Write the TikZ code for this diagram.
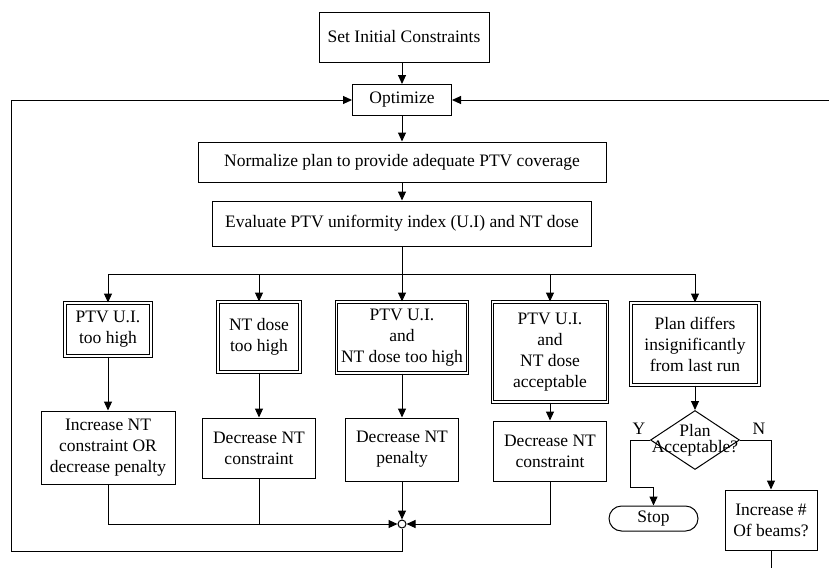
\documentclass[tikz,border=0pt]{standalone}
\usepackage{fontspec}
\setmainfont{Liberation Serif}
\usepackage{tikz}
\usetikzlibrary{arrows.meta,shapes.geometric}

\begin{document}
\begin{tikzpicture}[x=1pt, y=-1pt,
	every node/.style={font=\fontsize{17.5}{21}\selectfont, align=center},
	box/.style={draw, line width=1pt, inner sep=2pt},
	cond/.style={box, double, double distance=1.6pt},
	arr/.style={-{Triangle[length=9pt, width=8pt]}},
	line width=1pt]
	\useasboundingbox (0,0) rectangle (829,568);

	% main column
	\node[box, minimum width=170, minimum height=50] (init) at (404,37) {Set Initial Constraints};
	\node[box, minimum width=99, minimum height=31] (opt) at (402,100) {Optimize};
	\node[box, minimum width=408, minimum height=40] (norm) at (402,162) {Normalize plan to provide adequate PTV coverage};
	\node[box, minimum width=379, minimum height=45] (eval) at (402,223.5) {Evaluate PTV uniformity index (U.I) and NT dose};
	\draw[arr] (init.south -| opt) -- (opt);
	\draw[arr] (opt) -- (norm);
	\draw[arr] (norm) -- (eval);

	% outcomes of the evaluation
	\node[cond, minimum width=86, minimum height=53] (c1) at (108,329.5) {PTV U.I.\\too high};
	\node[cond, minimum width=82, minimum height=70] (c2) at (259,337) {NT dose\\too high};
	\node[cond, minimum width=131, minimum height=71] (c3) at (402,337.5) {PTV U.I.\\and\\NT dose too high};
	\node[cond, minimum width=115, minimum height=100] (c4) at (550,352) {PTV U.I.\\and\\NT dose\\acceptable};
	\node[cond, minimum width=128, minimum height=82] (c5) at (695,344) {Plan differs\\insignificantly\\from last run};

	\coordinate (split) at (402,274);
	\draw (eval) -- (split);
	\draw (c1.north |- split) -- (c5.north |- split);
	\foreach \c in {c1,c2,c3,c4,c5}
		\draw[arr] (\c.north |- split) -- (\c.north);

	% constraint changes
	\node[box, minimum width=134, minimum height=73] (a1) at (108,447.5) {Increase NT\\constraint OR\\decrease penalty};
	\node[box, minimum width=113, minimum height=60] (a2) at (259,448) {Decrease NT\\constraint};
	\node[box, minimum width=113, minimum height=63] (a3) at (402,449.5) {Decrease NT\\penalty};
	\node[box, minimum width=113, minimum height=60] (a4) at (550,451) {Decrease NT\\constraint};
	\draw[arr] (c1) -- (a1);
	\draw[arr] (c2) -- (a2);
	\draw[arr] (c3) -- (a3);
	\draw[arr] (c4) -- (a4);

	% merge and loop back
	\node[draw, circle, fill=white, inner sep=0pt, minimum size=8] (junc) at (402,524) {};
	\draw[arr] (a1.south) |- (junc.west);
	\draw (a2.south) -- (a2.south |- junc);
	\draw[arr] (a3) -- (junc);
	\draw[arr] (a4.south) |- (junc.east);
	\coordinate (loopl) at (11,551);
	\draw[arr] (junc.south) |- (loopl) |- (opt.west);
	\coordinate (loopr) at (829,100);
	\draw[arr] (loopr) -- (opt.east);

	% acceptance test
	\node[draw, diamond, inner sep=0pt, minimum width=89, minimum height=59,
		label={[font=\fontsize{17.5}{16}\selectfont, align=center]center:Plan\\Acceptable?}] (dec) at (695,440) {};
	\draw[arr] (c5) -- (dec);
	\node[draw, rectangle, rounded corners=12.5pt, minimum width=89, minimum height=25] (stop) at (653.5,518.5) {Stop};
	\node[box, minimum width=92, minimum height=60] (beams) at (771,520) {Increase \#\\Of beams?};
	\coordinate (ybend) at (630,487);
	\draw[arr] (dec.west) -| (ybend) -| (stop.north);
	\draw[arr] (dec.east) -| (beams.north);
	\node (ylab) at (639,429) {Y};
	\node (nlab) at (759,429) {N};
	\coordinate (beamsout) at (771,568);
	\draw (beams) -- (beamsout);
\end{tikzpicture}
\end{document}
